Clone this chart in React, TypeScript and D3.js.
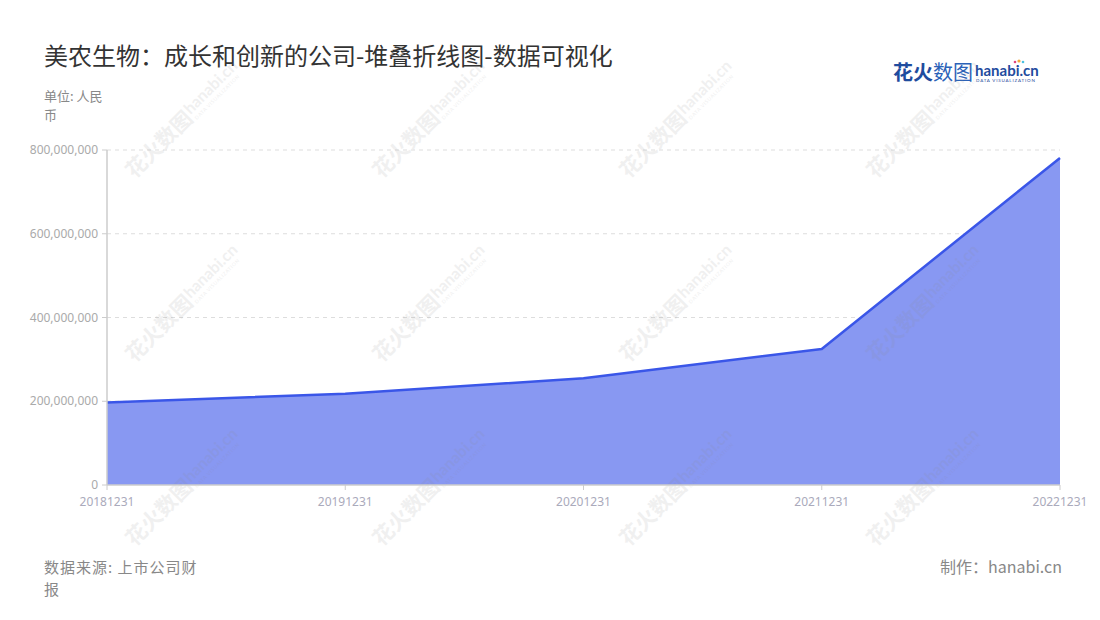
import * as d3 from "d3";

const categories = ["20181231", "20191231", "20201231", "20211231", "20221231"];
const values = [197000000, 218000000, 255000000, 325000000, 781000000];
const yTicks = [0, 200000000, 400000000, 600000000, 800000000];

const W = 1100;
const H = 620;
const left = 107;
const right = 1060;
const top = 150;
const bottom = 485;

const CJK = '"Noto Sans CJK SC", "Noto Sans", sans-serif';

const Watermark = ({ cx, cy }: { cx: number; cy: number }) => (
  <g transform={`translate(${cx},${cy}) rotate(-45)`} fill="#888" opacity={0.12}>
    <text x={-74} y={7} fontSize={21} fontWeight={700} fontFamily={CJK}>
      花火数图
    </text>
    <text x={11} y={1} fontSize={16} fontWeight={700} fontFamily="Lato, sans-serif">
      hanabi.cn
    </text>
    <text x={12} y={9} fontSize={5} fontFamily="Lato, sans-serif" letterSpacing={0.6}>
      DATA VISUALIZATION
    </text>
  </g>
);

export default function App() {
  const x = d3.scalePoint<string>().domain(categories).range([left, right]);
  const y = d3.scaleLinear().domain([0, 800000000]).range([bottom, top]);
  const rows = categories.map((c, i) => ({ c, v: values[i] }));

  const area = d3
    .area<{ c: string; v: number }>()
    .x((d) => x(d.c) as number)
    .y0(y(0))
    .y1((d) => y(d.v));
  const line = d3
    .line<{ c: string; v: number }>()
    .x((d) => x(d.c) as number)
    .y((d) => y(d.v));

  const fmt = d3.format(",");
  const marks: [number, number][] = [];
  for (let j = 0; j < 3; j++) for (let i = 0; i < 4; i++) marks.push([182 + 247 * i, 122 + 184 * j]);

  return (
    <svg width={W} height={H} style={{ position: "absolute", left: 0, top: 0 }}>
      <rect width={W} height={H} fill="#fff" />

      <text x={44} y={65} fontSize={24} fill="#333" fontFamily={CJK}>
        美农生物：成长和创新的公司-堆叠折线图-数据可视化
      </text>
      <text x={44} y={101} fontSize={13} fill="#888" fontFamily={CJK}>
        单位: 人民
      </text>
      <text x={44} y={120} fontSize={13} fill="#888" fontFamily={CJK}>
        币
      </text>

      {/* logo */}
      <g>
        <text x={893} y={80} fontSize={20} fontWeight={700} fill="#1f4c9e" fontFamily={CJK}>
          花火
        </text>
        <text x={933} y={80} fontSize={20} fill="#2b62b8" fontFamily={CJK}>
          数图
        </text>
        <text x={975} y={76} fontSize={15} fontWeight={700} fill="#1f4c9e" fontFamily="Lato, sans-serif">
          hanabi.cn
        </text>
        <text x={976} y={82} fontSize={4.5} fill="#1f4c9e" fontFamily="Lato, sans-serif" letterSpacing={0.8}>
          DATA VISUALIZATION
        </text>
        <circle cx={1019} cy={61} r={1.6} fill="#f2a93b" />
        <circle cx={1015} cy={62} r={1.3} fill="#e0467c" />
        <circle cx={1023} cy={62} r={1.3} fill="#4bc0e0" />
      </g>

      {/* grid */}
      {yTicks.slice(1).map((t) => (
        <line key={t} x1={left} x2={right} y1={y(t)} y2={y(t)} stroke="#ddd" strokeDasharray="4 4" />
      ))}

      <path d={area(rows) ?? ""} fill="#8898f2" />
      <path d={line(rows) ?? ""} fill="none" stroke="#3a56e8" strokeWidth={2.5} strokeLinejoin="round" />

      {marks.map(([cx, cy], i) => (
        <Watermark key={i} cx={cx} cy={cy} />
      ))}

      {/* y axis */}
      <line x1={left} x2={left} y1={top} y2={bottom} stroke="#ccc" strokeWidth={1.5} />
      {yTicks.map((t) => (
        <g key={t}>
          <line x1={left - 5} x2={left} y1={y(t)} y2={y(t)} stroke="#ccc" />
          <text x={left - 9} y={y(t) + 4} fontSize={12} textAnchor="end" fill="#aaa" fontFamily='"Noto Sans", sans-serif'>
            {fmt(t)}
          </text>
        </g>
      ))}

      {/* x axis */}
      <line x1={left} x2={right} y1={bottom} y2={bottom} stroke="#ccc" strokeWidth={1.5} />
      {categories.map((c) => (
        <g key={c}>
          <line x1={x(c)} x2={x(c)} y1={bottom} y2={bottom + 5} stroke="#ccc" />
          <text x={x(c)} y={bottom + 21} fontSize={12} textAnchor="middle" fill="#aab" fontFamily='"Noto Sans", sans-serif'>
            {c}
          </text>
        </g>
      ))}

      <text x={44} y={573} fontSize={15} letterSpacing={1} fill="#888" fontFamily={CJK}>
        数据来源: 上市公司财
      </text>
      <text x={44} y={595} fontSize={15} fill="#888" fontFamily={CJK}>
        报
      </text>
      <text x={1062} y={573} fontSize={16} textAnchor="end" fill="#888" fontFamily={CJK}>
        制作：hanabi.cn
      </text>
    </svg>
  );
}
